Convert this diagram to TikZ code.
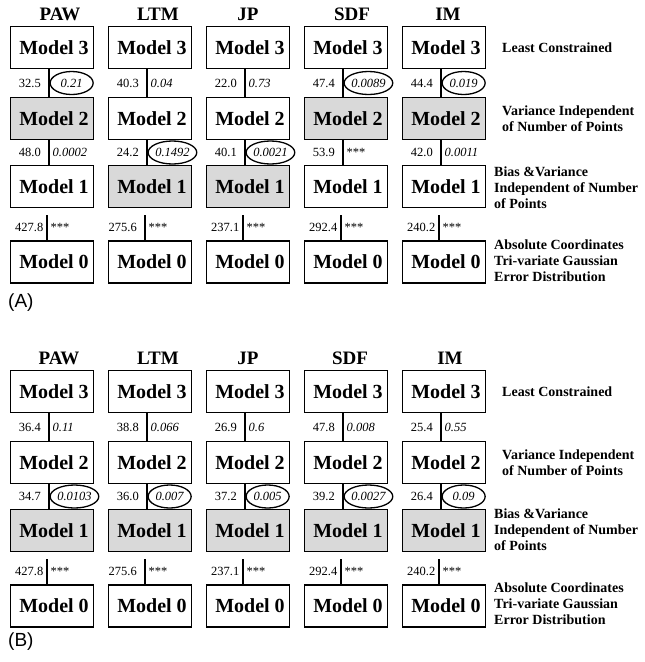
\documentclass[tikz,border=0pt]{standalone}
\usepackage{fontspec}
\setmainfont{Liberation Serif}
\newfontfamily\panelfont{Liberation Sans}
\usetikzlibrary{shapes.geometric}
\begin{document}
\begin{tikzpicture}[x=1pt,y=-1pt,
  model/.style={draw, line width=1.9pt, minimum width=83pt, minimum height=42pt,
    inner sep=0pt, font=\fontsize{20}{24}\selectfont\bfseries,
    execute at begin node=\hspace*{4pt}},
  sel/.style={model, fill=black!15},
  head/.style={inner sep=0pt, font=\fontsize{19}{21}\selectfont\bfseries},
  lval/.style={anchor=east, xshift=-8pt, inner sep=0pt, font=\fontsize{12.5}{14}\selectfont},
  rval/.style={anchor=west, xshift=3.5pt, inner sep=0pt, font=\fontsize{12.5}{14}\selectfont\itshape},
  stars/.style={anchor=west, xshift=3.5pt, inner sep=0pt, font=\fontsize{12.5}{14}\selectfont},
  circ/.style={ellipse, draw, line width=1.3pt, minimum width=43pt, minimum height=23pt,
    inner sep=0pt, anchor=west, xshift=0.5pt, font=\fontsize{12.5}{14}\selectfont\itshape},
  link/.style={line width=1.6pt},
  side/.style={anchor=west, align=left, inner sep=0pt,
    font=\fontsize{14}{16}\selectfont\bfseries},
  panel/.style={anchor=west, inner sep=0pt, font=\panelfont\fontsize{19}{22}\selectfont}]
\useasboundingbox (0,0) rectangle (645,662);

% ---------------- panel (A) ----------------
\foreach \n/\x in {PAW/60, LTM/158, JP/248, SDF/352, IM/448}
  \node[head] (Ah-\n) at (\x,14) {\n};

\foreach \c/\x/\sb/\sc in {1/52/sel/model, 2/150/model/sel, 3/248/model/sel,
                           4/346/sel/model, 5/444/sel/model} {
  \node[model] (A3-\c) at (\x,47.5)  {Model 3};
  \node[\sb]   (A2-\c) at (\x,118.5) {Model 2};
  \node[\sc]   (A1-\c) at (\x,186.5) {Model 1};
  \node[model] (A0-\c) at (\x,262)   {Model 0};
}

\foreach \c/\l/\r/\s in {1/32.5/0.21/circ, 2/40.3/0.04/rval, 3/22.0/0.73/rval,
                         4/47.4/0.0089/circ, 5/44.4/0.019/circ} {
  \draw[link] ([xshift=-3pt]A3-\c.south) -- coordinate[pos=.5] (A32m-\c) ([xshift=-3pt]A2-\c.north);
  \node[lval] (A32l-\c) at (A32m-\c) {\l};
  \node[\s]   (A32r-\c) at (A32m-\c) {\r};
}

\foreach \c/\l/\r/\s in {1/48.0/0.0002/rval, 2/24.2/0.1492/circ, 3/40.1/0.0021/circ,
                         4/53.9/***/stars, 5/42.0/0.0011/rval} {
  \draw[link] ([xshift=-3pt]A2-\c.south) -- coordinate[pos=.5] (A21m-\c) ([xshift=-3pt]A1-\c.north);
  \node[lval] (A21l-\c) at (A21m-\c) {\l};
  \node[\s]   (A21r-\c) at (A21m-\c) {\r};
}

\foreach \c/\l/\g in {1/427.8/3.5, 2/275.6/8, 3/237.1/3.5, 4/292.4/3.5, 5/240.2/3.5} {
  \draw[link] ([xshift=-5pt,yshift=-7pt]A1-\c.south) -- coordinate[pos=.5] (A10m-\c) ([xshift=-5pt]A0-\c.north);
  \node[lval, xshift=8pt-\g pt] (A10l-\c) at (A10m-\c) {\l};
  \node[stars] (A10r-\c) at (A10m-\c) {***};
}

\node[side] (As3) at (502,48)  {Least Constrained};
\node[side] (As2) at (502,119) {Variance Independent\\of Number of Points};
\node[side] (As1) at (494,188) {Bias \&Variance\\Independent of Number\\of Points};
\node[side] (As0) at (494,261) {Absolute Coordinates\\Tri-variate Gaussian\\Error Distribution};
\node[panel] (Alab) at (8,303) {(A)};

% ---------------- panel (B) ----------------
\foreach \n/\x in {PAW/59, LTM/158, JP/248, SDF/350, IM/450}
  \node[head] (Bh-\n) at (\x,358) {\n};

\foreach \c/\x in {1/52, 2/150, 3/248, 4/346, 5/444} {
  \node[model] (B3-\c) at (\x,391.5) {Model 3};
  \node[model] (B2-\c) at (\x,462.5) {Model 2};
  \node[sel]   (B1-\c) at (\x,530.5) {Model 1};
  \node[model] (B0-\c) at (\x,606)   {Model 0};
}

\foreach \c/\l/\r in {1/36.4/0.11, 2/38.8/0.066, 3/26.9/0.6, 4/47.8/0.008, 5/25.4/0.55} {
  \draw[link] ([xshift=-3pt]B3-\c.south) -- coordinate[pos=.5] (B32m-\c) ([xshift=-3pt]B2-\c.north);
  \node[lval] (B32l-\c) at (B32m-\c) {\l};
  \node[rval] (B32r-\c) at (B32m-\c) {\r};
}

\foreach \c/\l/\r in {1/34.7/0.0103, 2/36.0/0.007, 3/37.2/0.005, 4/39.2/0.0027, 5/26.4/0.09} {
  \draw[link] ([xshift=-3pt]B2-\c.south) -- coordinate[pos=.5] (B21m-\c) ([xshift=-3pt]B1-\c.north);
  \node[lval] (B21l-\c) at (B21m-\c) {\l};
  \node[circ] (B21r-\c) at (B21m-\c) {\r};
}

\foreach \c/\l/\g in {1/427.8/3.5, 2/275.6/8, 3/237.1/3.5, 4/292.4/3.5, 5/240.2/3.5} {
  \draw[link] ([xshift=-5pt,yshift=-7pt]B1-\c.south) -- coordinate[pos=.5] (B10m-\c) ([xshift=-5pt]B0-\c.north);
  \node[lval, xshift=8pt-\g pt] (B10l-\c) at (B10m-\c) {\l};
  \node[stars] (B10r-\c) at (B10m-\c) {***};
}

\node[side] (Bs3) at (502,392) {Least Constrained};
\node[side] (Bs2) at (502,463) {Variance Independent\\of Number of Points};
\node[side] (Bs1) at (494,530) {Bias \&Variance\\Independent of Number\\of Points};
\node[side] (Bs0) at (494,604) {Absolute Coordinates\\Tri-variate Gaussian\\Error Distribution};
\node[panel] (Blab) at (8,642) {(B)};
\end{tikzpicture}
\end{document}
